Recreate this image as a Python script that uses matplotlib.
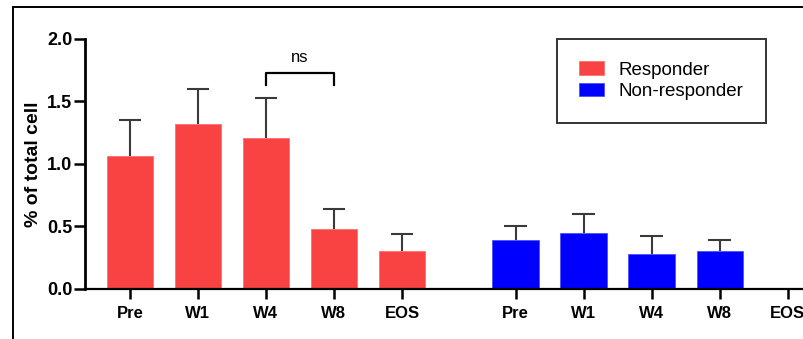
import numpy as np
import matplotlib.pyplot as plt
from matplotlib.lines import Line2D

plt.rcParams['font.family'] = ['Liberation Sans', 'DejaVu Sans']

# data
timepoints = ['Pre', 'W1', 'W4', 'W8', 'EOS']
resp_mean = [1.06, 1.32, 1.21, 0.48, 0.30]
resp_err = [0.29, 0.28, 0.32, 0.16, 0.14]
nonresp_mean = [0.39, 0.45, 0.28, 0.30]
nonresp_err = [0.11, 0.15, 0.14, 0.09]

red = '#F94242'
blue = '#0000FF'

fig = plt.figure(figsize=(8.04, 3.39), dpi=100)
ax = fig.add_axes([0.1057, 0.1475, 0.8943, 0.7375])

x_resp = np.arange(len(resp_mean))
x_non = 5.67 + np.arange(len(timepoints))
bw = 0.68


def upper_err(x, m, e):
    # only the upper half of the error bar, as in Prism
    x = np.asarray(x)
    top = np.asarray(m) + np.asarray(e)
    ax.vlines(x, m, top, color='#3a3a3a', lw=1.5, zorder=1)
    ax.hlines(top, x - 0.165, x + 0.165, color='#3a3a3a', lw=1.5, zorder=1)


ax.bar(x_resp, resp_mean, bw, color=red, edgecolor='#FF7070', linewidth=0.6,
       label='Responder', zorder=2)
upper_err(x_resp, resp_mean, resp_err)
xn = x_non[:len(nonresp_mean)]
ax.bar(xn, nonresp_mean, bw, color=blue, edgecolor='#5050FF', linewidth=0.6,
       label='Non-responder', zorder=2)
upper_err(xn, nonresp_mean, nonresp_err)

# significance bracket W4 vs W8
ax.plot([2, 2, 3, 3], [1.635, 1.725, 1.725, 1.635], color='black', lw=1.6,
        clip_on=False)
ax.text(2.5, 1.79, 'ns', ha='center', va='bottom', fontsize=12)

ax.set_xlim(-0.66, 9.91)
ax.set_ylim(0, 2.0)
ax.set_yticks([0, 0.5, 1.0, 1.5, 2.0])
ax.set_yticklabels(['0.0', '0.5', '1.0', '1.5', '2.0'])
ax.set_xticks(np.concatenate([x_resp, x_non]))
ax.set_xticklabels(timepoints + timepoints)

for lab in ax.get_xticklabels() + ax.get_yticklabels():
    lab.set_fontweight('bold')
ax.tick_params(axis='y', length=8, width=1.8, labelsize=13, pad=1)
ax.tick_params(axis='x', length=7, width=1.8, labelsize=12, pad=5)

ax.set_ylabel('% of total cell', fontsize=14, fontweight='bold', labelpad=4)

for s in ['top', 'right']:
    ax.spines[s].set_visible(False)
ax.spines['left'].set_linewidth(2)
ax.spines['bottom'].set_linewidth(1.6)

leg = ax.legend(loc='upper left', bbox_to_anchor=(0.656, 1.0), fontsize=13.5,
                frameon=True, fancybox=False, edgecolor='black',
                handlelength=1.35, handleheight=0.7, handletextpad=0.75,
                borderpad=1.2, labelspacing=0.25, borderaxespad=0)
leg.get_frame().set_linewidth(1.4)

# outer frame
fig.add_artist(Line2D([0.016, 0.016], [0, 0.979], color='black', lw=1.4))
fig.add_artist(Line2D([0.016, 1.0], [0.979, 0.979], color='black', lw=1.4))

fig.savefig('out.png', dpi=100)
